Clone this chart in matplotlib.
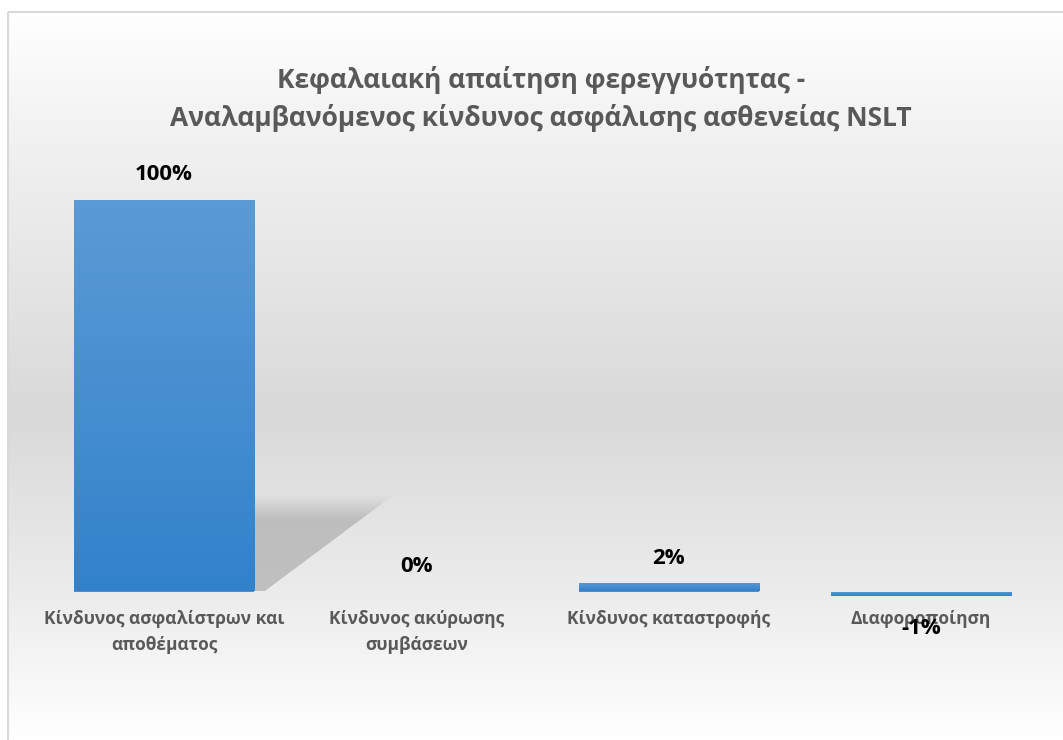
import numpy as np
import matplotlib.pyplot as plt
import matplotlib.transforms as mtransforms
from matplotlib.colors import LinearSegmentedColormap
from matplotlib.patches import Polygon, Rectangle

title = "Κεφαλαιακή απαίτηση φερεγγυότητας -\nΑναλαμβανόμενος κίνδυνος ασφάλισης ασθενείας NSLT"
categories = ["Κίνδυνος ασφαλίστρων και\nαποθέματος",
              "Κίνδυνος ακύρωσης\nσυμβάσεων",
              "Κίνδυνος καταστροφής",
              "Διαφοροποίηση"]
values = [1.00, 0.00, 0.021, -0.012]

plt.rcParams['font.family'] = ['Open Sans', 'DejaVu Sans']

W, H = 1063, 740
fig = plt.figure(figsize=(W / 100, H / 100), dpi=100)

# chart area background (grey vertical gradient) and border
bg = fig.add_axes([0, 0, 1, 1], zorder=0)
bg.set_axis_off()
bg_cmap = LinearSegmentedColormap.from_list(
    'bg', [(0, '#ffffff'), (0.15, '#f3f3f3'), (0.55, '#d9d9d9'),
           (0.8, '#ececec'), (1, '#ffffff')])
bg.imshow(np.linspace(0, 1, 256).reshape(-1, 1), cmap=bg_cmap, aspect='auto',
          extent=(8, W, H, 12), interpolation='bilinear')
bg.add_patch(Rectangle((8, 12), W, H, fill=False, ec='#d9d9d9', lw=1.5))
bg.set_xlim(0, W)
bg.set_ylim(H, 0)

# plot area, baseline at y=591.5 px, 392 px per 100%
ax = fig.add_axes([38 / W, 40 / H, 1009 / W, 550 / H], zorder=1)
ax.set_axis_off()
ax.patch.set_alpha(0)
x = np.arange(len(values))
width = 0.714
bars = ax.bar(x, values, width=width, color='#4a8fd3', zorder=3)

blue = LinearSegmentedColormap.from_list('blue', ['#5b9bd5', '#3282cb'])
grad = np.linspace(0, 1, 64).reshape(-1, 1)
for b in bars:
    x0, x1 = b.get_x(), b.get_x() + b.get_width()
    y0, y1 = sorted([b.get_y(), b.get_y() + b.get_height()])
    if y1 - y0 <= 0:
        continue
    im = ax.imshow(grad, cmap=blue, aspect='auto', extent=(x0, x1, y0, y1),
                   origin='upper', zorder=4, interpolation='bilinear')
    im.set_clip_path(b)

# perspective shadow behind the tall bar
b0 = bars[0]
xr = b0.get_x() + b0.get_width()
sh = 0.245 * values[0]
shadow = Polygon([(xr, 0), (xr, sh), (xr + 0.55, sh), (xr + 0.04, 0)],
                 closed=True, fc='none', ec='none')
ax.add_patch(shadow)
rgba = np.zeros((64, 1, 4))
rgba[..., :3] = 0.68
rgba[:, 0, 3] = np.clip(np.linspace(0, 1, 64) / 0.25, 0, 1) * 0.7
sim = ax.imshow(rgba, aspect='auto', extent=(xr, xr + 0.6, 0, sh),
                origin='upper', zorder=2, interpolation='bilinear')
sim.set_clip_path(shadow)

ax.set_xlim(-0.5, len(values) - 0.5)
ax.set_ylim(-(700 - 591.5) / 392, (591.5 - 150) / 392)

# value labels
for xi, v in zip(x, values):
    off = 18 if v >= 0 else -23
    ax.annotate(f"{v:.0%}", (xi, v), xytext=(0, off), textcoords='offset points',
                ha='center', va='center', fontsize=16, fontweight='bold',
                color='black', zorder=6)

# category labels
trans = mtransforms.blended_transform_factory(ax.transData, fig.transFigure)
for xi, c in zip(x, categories):
    ax.text(xi, 1 - 610 / H, c, transform=trans, ha='center', va='top',
            fontsize=12.5, fontweight='bold', color='#595959',
            linespacing=1.6, zorder=5)

fig.text(541 / W, 1 - 99 / H, title, ha='center', va='center',
         fontsize=19, fontweight='bold', color='#595959', linespacing=1.45)

fig.savefig('out.png', dpi=100)
